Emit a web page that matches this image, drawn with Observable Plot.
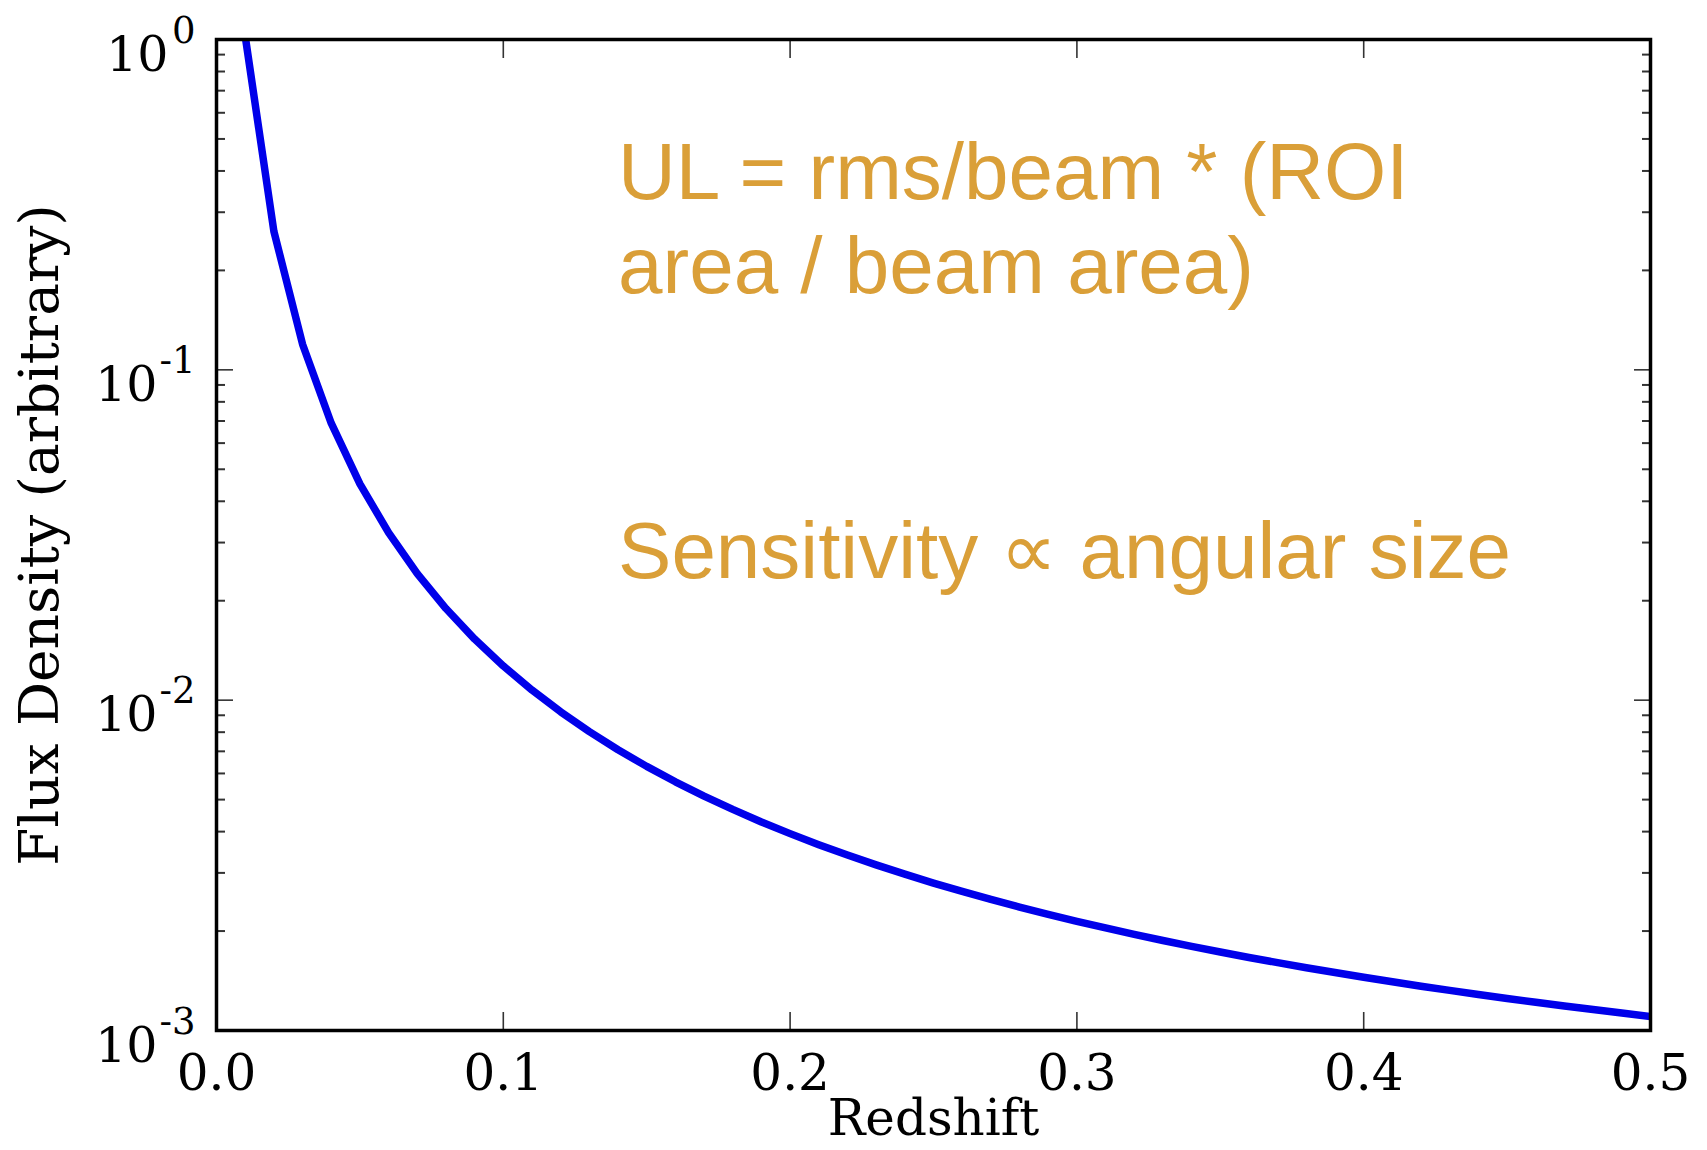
<!DOCTYPE html>
<html>
<head>
<meta charset="utf-8">
<script src="https://cdn.jsdelivr.net/npm/d3@7"></script>
<script src="https://cdn.jsdelivr.net/npm/@observablehq/plot@0.6"></script>
<style>
  html, body { margin: 0; padding: 0; background: #ffffff; }
  svg { display: block; }
</style>
</head>
<body>
<div id="chart"></div>
<script>
// ---- data ----
const redshift = [0.01, 0.02, 0.03, 0.04, 0.05, 0.06, 0.07, 0.08, 0.09, 0.10,
                  0.11, 0.12, 0.13, 0.14, 0.15, 0.16, 0.17, 0.18, 0.19, 0.20,
                  0.21, 0.22, 0.23, 0.24, 0.25, 0.26, 0.27, 0.28, 0.29, 0.30,
                  0.31, 0.32, 0.33, 0.34, 0.35, 0.36, 0.37, 0.38, 0.39, 0.40,
                  0.41, 0.42, 0.43, 0.44, 0.45, 0.46, 0.47, 0.48, 0.49, 0.50];
const flux = [1.025, 0.2627, 0.1196, 0.06894, 0.04519, 0.03213, 0.02417, 0.01894, 0.01531, 0.01269,
              0.01073, 0.009219, 0.008032, 0.007080, 0.006303, 0.005661, 0.005124, 0.004669, 0.004279, 0.003944,
              0.003652, 0.003397, 0.003172, 0.002973, 0.002795, 0.002636, 0.002493, 0.002364, 0.002247, 0.002141,
              0.002044, 0.001955, 0.001873, 0.001798, 0.001729, 0.001664, 0.001605, 0.001549, 0.001498, 0.001449,
              0.001404, 0.001362, 0.001323, 0.001285, 0.001250, 0.001217, 0.001186, 0.001157, 0.001129, 0.001102];

const xTicks = [0, 0.1, 0.2, 0.3, 0.4, 0.5];
const xTickLabels = ["0.0", "0.1", "0.2", "0.3", "0.4", "0.5"];
const yDecades = [1, 0.1, 0.01, 0.001];
const yExponents = ["0", "-1", "-2", "-3"];
const xLabel = "Redshift";
const yLabel = "Flux Density (arbitrary)";
const notes = [
  {text: "UL = rms/beam * (ROI", x: 0.14, y: 0.330},
  {text: "area / beam area)", x: 0.14, y: 0.171},
  {text: "Sensitivity \u221D angular size", x: 0.14, y: 0.0235}
];

// minor log ticks (2..9 within each decade)
const yMinor = [];
for (const d of [0.001, 0.01, 0.1]) for (let k = 2; k <= 9; ++k) yMinor.push(+(d * k).toPrecision(3));

const curve = redshift.map((z, i) => ({z, f: flux[i]}));

const serif = "'DejaVu Serif', serif";
const tickStyle = {label: null, tickFormat: () => "", stroke: "#333", strokeWidth: 1.6};
const baseText = {fill: "#000", fontFamily: serif};

const chart = Plot.plot({
  width: 1707,
  height: 1150,
  marginLeft: 216,
  marginRight: 57,
  marginTop: 39,
  marginBottom: 120,
  style: {background: "#ffffff", fontFamily: serif, color: "#000"},
  x: {domain: [0, 0.5]},
  y: {type: "log", domain: [0.001, 1]},
  marks: [
    Plot.line(curve, {x: "z", y: "f", stroke: "#0000ea", strokeWidth: 7.5, clip: true}),
    Plot.axisX(xTicks, {anchor: "bottom", tickSize: -18, ...tickStyle}),
    Plot.axisX(xTicks, {anchor: "top", tickSize: -18, ...tickStyle}),
    Plot.axisY(yDecades, {anchor: "left", tickSize: -17, ...tickStyle}),
    Plot.axisY(yDecades, {anchor: "right", tickSize: -17, ...tickStyle}),
    Plot.axisY(yMinor, {anchor: "left", tickSize: -9, ...tickStyle, strokeWidth: 2}),
    Plot.axisY(yMinor, {anchor: "right", tickSize: -9, ...tickStyle, strokeWidth: 2}),
    Plot.frame({stroke: "#000", strokeWidth: 3.5}),
    // x tick labels
    Plot.text(xTicks, {x: d => d, text: (d, i) => xTickLabels[i], frameAnchor: "bottom",
      textAnchor: "middle", lineAnchor: "bottom", dy: 59, fontSize: 50, ...baseText}),
    // y tick labels: base "10" (placed left of its exponent) and the exponent
    Plot.text(yDecades, {filter: (d, i) => yExponents[i].length === 1, y: d => d, text: () => "10",
      frameAnchor: "left", textAnchor: "end", lineAnchor: "bottom", dx: -48, dy: 31, fontSize: 49, ...baseText}),
    Plot.text(yDecades, {filter: (d, i) => yExponents[i].length > 1, y: d => d, text: () => "10",
      frameAnchor: "left", textAnchor: "end", lineAnchor: "bottom", dx: -59, dy: 31, fontSize: 49, ...baseText}),
    Plot.text(yDecades, {y: d => d, text: (d, i) => yExponents[i], frameAnchor: "left", textAnchor: "end",
      lineAnchor: "bottom", dx: -21, dy: 3, fontSize: 37, ...baseText}),
    // axis labels
    Plot.text([xLabel], {text: d => d, frameAnchor: "bottom", textAnchor: "middle", lineAnchor: "bottom",
      dy: 104, fontSize: 50, ...baseText}),
    Plot.text([yLabel], {text: d => d, frameAnchor: "left", textAnchor: "middle", rotate: -90,
      lineAnchor: "bottom", dx: -159, fontSize: 55, ...baseText}),
    // annotations
    Plot.text(notes, {x: "x", y: "y", text: "text", textAnchor: "start", lineAnchor: "bottom",
      fontSize: 80, fill: "#DA9F38", fontFamily: "'Liberation Sans', Arial, sans-serif"})
  ]
});
document.getElementById("chart").appendChild(chart);
</script>
</body>
</html>
